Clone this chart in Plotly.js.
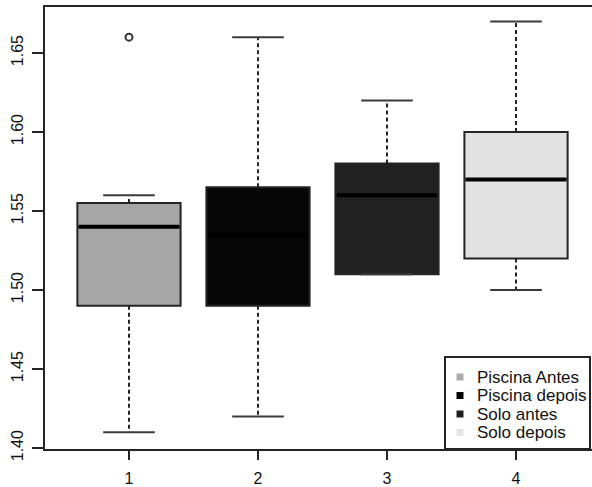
<!DOCTYPE html>
<html>
<head>
<meta charset="utf-8">
<script src="https://cdn.plot.ly/plotly-3.0.1.min.js"></script>
<style>html,body{margin:0;padding:0;background:#fff;}#chart{width:592px;height:487px;}</style>
</head>
<body>
<div id="chart"></div>
<script>
// ---- data ----
const categories = [1, 2, 3, 4];
const tickLabels = ['1', '2', '3', '4'];
const seriesNames = ['Piscina Antes', 'Piscina depois', 'Solo antes', 'Solo depois'];
const lowerWhisker = [1.41, 1.42, 1.51, 1.50];
const q1Values = [1.49, 1.49, 1.51, 1.52];
const medianValues = [1.54, 1.535, 1.56, 1.57];
const q3Values = [1.555, 1.565, 1.58, 1.60];
const upperWhisker = [1.56, 1.66, 1.62, 1.67];
const outlierX = [1];
const outlierY = [1.66];
const yTickVals = [1.40, 1.45, 1.50, 1.55, 1.60, 1.65];
const yTickLabels = ['1.40', '1.45', '1.50', '1.55', '1.60', '1.65'];
const fillColors = ['#a6a6a6', '#060606', '#222222', '#e2e2e2'];
const legendColors = ['#ababab', '#000000', '#1e1e1e', '#e4e4e4'];

const BOXW = 0.8, CAPW = 0.4;
const edge = '#242424';
const FONT = 'Liberation Sans, Arial, Helvetica, sans-serif';
const W = 592, H = 487;
const M = {l: 45, r: 0, t: 7, b: 38};
const PW = W - M.l - M.r, PH = H - M.t - M.b;
const px = x => (x - M.l) / PW;          // pixel -> paper x
const py = y => (H - M.b - y) / PH;      // pixel -> paper y

const traces = [];
categories.forEach((c, i) => {
  traces.push({
    type: 'box', x: [c], q1: [q1Values[i]], median: [medianValues[i]], q3: [q3Values[i]],
    lowerfence: [q1Values[i]], upperfence: [q3Values[i]],
    width: BOXW, fillcolor: fillColors[i], line: {color: edge, width: 2},
    whiskerwidth: 0, showlegend: false, hoverinfo: 'skip'
  });
});
// dashed whiskers
const wx = [], wy = [];
categories.forEach((c, i) => {
  wx.push(c, c, null, c, c, null);
  wy.push(q3Values[i], upperWhisker[i], null, q1Values[i], lowerWhisker[i], null);
});
traces.push({type: 'scatter', mode: 'lines', x: wx, y: wy, line: {color: edge, width: 2, dash: '4px,3px'}, showlegend: false, hoverinfo: 'skip'});
// caps
const cx = [], cy = [];
categories.forEach((c, i) => {
  cx.push(c - CAPW / 2, c + CAPW / 2, null, c - CAPW / 2, c + CAPW / 2, null);
  cy.push(upperWhisker[i], upperWhisker[i], null, lowerWhisker[i], lowerWhisker[i], null);
});
traces.push({type: 'scatter', mode: 'lines', x: cx, y: cy, line: {color: '#3a3a3a', width: 2}, showlegend: false, hoverinfo: 'skip'});
// medians
const mx = [], my = [];
categories.forEach((c, i) => {
  mx.push(c - BOXW / 2 + 0.01, c + BOXW / 2 - 0.01, null);
  my.push(medianValues[i], medianValues[i], null);
});
traces.push({type: 'scatter', mode: 'lines', x: mx, y: my, line: {color: '#000', width: 4}, showlegend: false, hoverinfo: 'skip'});
// outliers
traces.push({type: 'scatter', mode: 'markers', x: outlierX, y: outlierY,
  marker: {symbol: 'circle-open', size: 7, color: '#333', line: {width: 2, color: '#333'}}, showlegend: false, hoverinfo: 'skip'});

// legend (R-style box, drawn with shapes and annotations)
const shapes = [{
  type: 'rect', xref: 'paper', yref: 'paper', layer: 'above',
  x0: px(445), x1: px(590), y0: py(449), y1: py(357),
  line: {color: edge, width: 2}, fillcolor: '#fff'
}];
const annotations = [];
const rowY = [377, 395.5, 414, 432.5];
seriesNames.forEach((n, i) => {
  shapes.push({
    type: 'rect', xref: 'paper', yref: 'paper', layer: 'above',
    x0: px(456.5), x1: px(463.5), y0: py(rowY[i] + 3.5), y1: py(rowY[i] - 3.5),
    line: {width: 0}, fillcolor: legendColors[i]
  });
  annotations.push({
    xref: 'paper', yref: 'paper', x: px(475), y: py(rowY[i]), xanchor: 'left', yanchor: 'middle',
    text: n, showarrow: false, font: {family: FONT, size: 17, color: '#111'}
  });
});

const layout = {
  width: W, height: H,
  margin: M,
  paper_bgcolor: '#fff', plot_bgcolor: '#fff',
  font: {family: FONT, size: 16, color: '#111'},
  showlegend: false,
  shapes: shapes, annotations: annotations,
  xaxis: {
    range: [0.349, 4.589], tickmode: 'array', tickvals: categories, ticktext: tickLabels,
    ticks: 'outside', ticklen: 9, tickwidth: 2, tickcolor: edge,
    showline: true, mirror: true, linecolor: edge, linewidth: 2,
    showgrid: false, zeroline: false, ticklabelstandoff: 5,
    tickfont: {family: FONT, size: 16, color: '#111'}
  },
  yaxis: {
    range: [1.3994, 1.6791], tickmode: 'array', tickvals: yTickVals, ticktext: yTickLabels,
    ticks: 'outside', ticklen: 11, tickwidth: 2, tickcolor: edge, tickangle: -90,
    showline: true, mirror: false, linecolor: edge, linewidth: 2,
    showgrid: false, zeroline: false, ticklabelstandoff: 3,
    tickfont: {family: FONT, size: 16, color: '#111'}
  }
};

Plotly.newPlot('chart', traces, layout, {staticPlot: true, displayModeBar: false});
</script>
</body>
</html>
